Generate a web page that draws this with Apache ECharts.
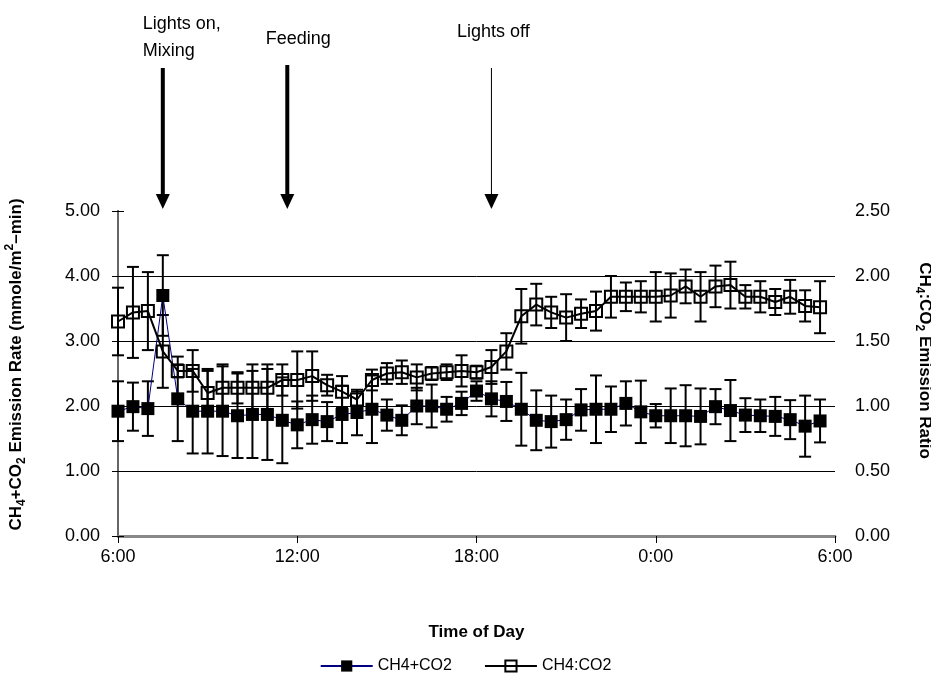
<!DOCTYPE html>
<html>
<head>
<meta charset="utf-8">
<script src="https://cdn.jsdelivr.net/npm/echarts@6/dist/echarts.min.js"></script>
<style>
  html, body { margin: 0; padding: 0; background: #fff; }
  #chart { width: 931px; height: 675px; }
</style>
</head>
<body>
<div id="chart"></div>
<script>
// half-hourly sampling times
const times = ['6:00','6:30','7:00','7:30','8:00','8:30','9:00','9:30','10:00','10:30','11:00','11:30',
  '12:00','12:30','13:00','13:30','14:00','14:30','15:00','15:30','16:00','16:30','17:00','17:30',
  '18:00','18:30','19:00','19:30','20:00','20:30','21:00','21:30','22:00','22:30','23:00','23:30',
  '0:00','0:30','1:00','1:30','2:00','2:30','3:00','3:30','4:00','4:30','5:00','5:30']

// CH4+CO2 emission rate (mmole/m2-min) and its error
const rate = [1.92, 1.99, 1.96, 3.70, 2.11, 1.92, 1.92, 1.92, 1.85, 1.87, 1.87, 1.78,
  1.71, 1.79, 1.76, 1.87, 1.90, 1.95, 1.86, 1.78, 2.00, 2.00, 1.95, 2.04,
  2.23, 2.11, 2.07, 1.95, 1.78, 1.76, 1.79, 1.94, 1.95, 1.95, 2.04, 1.91,
  1.85, 1.85, 1.85, 1.84, 1.99, 1.93, 1.86, 1.85, 1.84, 1.79, 1.69, 1.77]
const rateErr = [0.46, 0.37, 0.42, 0.62, 0.65, 0.65, 0.65, 0.69, 0.65, 0.67, 0.70, 0.66,
  0.36, 0.37, 0.30, 0.44, 0.35, 0.52, 0.24, 0.23, 0.28, 0.33, 0.19, 0.18,
  0.15, 0.27, 0.30, 0.56, 0.46, 0.40, 0.31, 0.32, 0.52, 0.35, 0.34, 0.48,
  0.18, 0.42, 0.47, 0.43, 0.27, 0.47, 0.26, 0.25, 0.30, 0.30, 0.47, 0.33]

// CH4:CO2 emission ratio and its error
const ratio = [1.65, 1.72, 1.73, 1.42, 1.27, 1.27, 1.10, 1.14, 1.14, 1.14, 1.14, 1.20,
  1.20, 1.23, 1.16, 1.11, 1.05, 1.20, 1.25, 1.26, 1.22, 1.25, 1.26, 1.27,
  1.26, 1.30, 1.42, 1.69, 1.78, 1.72, 1.68, 1.71, 1.73, 1.84, 1.84, 1.84,
  1.84, 1.85, 1.92, 1.84, 1.92, 1.93, 1.84, 1.84, 1.80, 1.84, 1.77, 1.76]
const ratioErr = [0.26, 0.35, 0.30, 0.28, 0.05, 0.16, 0.17, 0.18, 0.12, 0.18, 0.18, 0.12,
  0.22, 0.19, 0.08, 0.12, 0.06, 0.08, 0.08, 0.09, 0.10, 0.05, 0.06, 0.12,
  0.05, 0.13, 0.14, 0.21, 0.16, 0.12, 0.18, 0.11, 0.15, 0.16, 0.11, 0.12,
  0.19, 0.17, 0.13, 0.19, 0.16, 0.18, 0.09, 0.12, 0.10, 0.13, 0.12, 0.20]

const xTickLabels = ['6:00', '12:00', '18:00', '0:00', '6:00']

const eventTimes = ['7:30', '11:40', '18:30']
const eventLabels = ['Lights on,\nMixing', 'Feeding', 'Lights off']

const FONT = 'Liberation Sans, Arial, sans-serif'

// hours elapsed since 6:00
function hoursFrom6(t) {
  let [h, m] = t.split(':').map(Number)
  return ((h - 6 + 24) % 24) + m / 60
}

function errorBars(mean, err, axis) {
  return {
    type: 'custom',
    yAxisIndex: axis,
    z: 1,
    silent: true,
    data: times.map((t, i) => [hoursFrom6(t), mean[i] - err[i], mean[i] + err[i]]),
    encode: { x: 0, y: [1, 2] },
    renderItem: (params, api) => {
      let lo = api.coord([api.value(0), api.value(1)])
      let hi = api.coord([api.value(0), api.value(2)])
      let w = 6
      let style = { stroke: '#000', lineWidth: 2 }
      return {
        type: 'group',
        children: [
          { type: 'line', shape: { x1: lo[0], y1: lo[1], x2: hi[0], y2: hi[1] }, style: style },
          { type: 'line', shape: { x1: lo[0] - w, y1: lo[1], x2: lo[0] + w, y2: lo[1] }, style: style },
          { type: 'line', shape: { x1: hi[0] - w, y1: hi[1], x2: hi[0] + w, y2: hi[1] }, style: style }
        ]
      }
    }
  }
}

// arrow widths and label placement for the three events
const arrowLook = [
  { width: 4, dx: -20, dy: -200, align: 'left' },
  { width: 4, dx: 11, dy: -185, align: 'center' },
  { width: 1, dx: 2, dy: -192, align: 'center' }
]

const events = {
  type: 'custom',
  yAxisIndex: 0,
  clip: false,
  silent: true,
  z: 5,
  data: eventTimes.map((t, i) => [hoursFrom6(t), 5, i]),
  encode: { x: 0, y: 1 },
  renderItem: (params, api) => {
    let i = api.value(2)
    let look = arrowLook[i]
    let tip = api.coord([api.value(0), api.value(1)])
    let x = tip[0]
    let yTip = tip[1] - 2
    let yTop = i === 1 ? tip[1] - 146 : tip[1] - 143
    return {
      type: 'group',
      children: [
        { type: 'line', shape: { x1: x, y1: yTop, x2: x, y2: yTip - 12 }, style: { stroke: '#000', lineWidth: look.width } },
        { type: 'polygon', shape: { points: [[x - 7, yTip - 15], [x + 7, yTip - 15], [x, yTip]] }, style: { fill: '#000' } },
        {
          type: 'text',
          x: x + look.dx,
          y: tip[1] + look.dy,
          style: {
            text: eventLabels[i], fill: '#000', fontSize: 18, fontFamily: FONT,
            align: look.align, verticalAlign: 'top', lineHeight: 27
          }
        }
      ]
    }
  }
}

const nameRich = {
  b: { fontSize: 17, fontWeight: 'bold', fontFamily: FONT, color: '#000', lineHeight: 24 },
  s: { fontSize: 12, fontWeight: 'bold', fontFamily: FONT, color: '#000', lineHeight: 12, verticalAlign: 'bottom' },
  p: { fontSize: 12, fontWeight: 'bold', fontFamily: FONT, color: '#000', lineHeight: 12, verticalAlign: 'top' }
}

const myChart = echarts.init(document.getElementById('chart'))

myChart.setOption({
  animation: false,
  backgroundColor: '#fff',
  textStyle: { fontFamily: FONT },
  grid: { left: 118, right: 96, top: 211, bottom: 139, outerBoundsMode: 'none', containLabel: false },
  legend: {
    top: 653,
    left: 'center',
    itemWidth: 52,
    itemHeight: 14,
    itemGap: 32,
    data: ['CH4+CO2', 'CH4:CO2'],
    textStyle: { fontSize: 16, color: '#000', fontFamily: FONT }
  },
  xAxis: [
    {
      type: 'value',
      min: 0,
      max: 24,
      interval: 6,
      name: 'Time of Day',
      nameLocation: 'middle',
      nameGap: 88,
      nameTextStyle: { fontSize: 17, fontWeight: 'bold', color: '#000', fontFamily: FONT },
      axisLine: { lineStyle: { color: '#000', width: 1.5 } },
      axisTick: { length: 7, lineStyle: { color: '#000', width: 1 } },
      axisLabel: { formatter: v => xTickLabels[v / 6], fontSize: 18, color: '#000', margin: 12 },
      splitLine: { show: false }
    },
    {
      type: 'value',
      min: 0,
      max: 24,
      position: 'top',
      axisLine: { lineStyle: { color: '#888', width: 3 } },
      axisTick: { show: false },
      axisLabel: { show: false },
      splitLine: { show: false }
    }
  ],
  yAxis: [
    {
      type: 'value',
      min: 0,
      max: 5,
      interval: 1,
      position: 'left',
      name: '{b|CH}{s|4}{b|+CO}{s|2}{b| Emission Rate (mmole/m}{p|2}{b|\u2013min)}',
      nameLocation: 'middle',
      nameGap: 90,
      nameTextStyle: { rich: nameRich, padding: [0, 0, 0, 18] },
      axisLine: { show: true, lineStyle: { color: '#666', width: 2 } },
      axisTick: { show: true, length: 6, lineStyle: { color: '#000' } },
      axisLabel: { formatter: v => v.toFixed(2), fontSize: 18, color: '#000', margin: 18 },
      splitLine: { show: true, showMinLine: false, showMaxLine: false, lineStyle: { color: '#000', width: 1 } }
    },
    {
      type: 'value',
      min: 0,
      max: 2.5,
      interval: 0.5,
      position: 'right',
      name: '{b|CH}{s|4}{b|:CO}{s|2}{b| Emission Ratio}',
      nameLocation: 'middle',
      nameRotate: -90,
      nameGap: 78,
      nameTextStyle: { rich: nameRich, padding: [0, 26, 0, 0] },
      axisLine: { show: true, lineStyle: { color: '#666', width: 2 } },
      axisTick: { show: true, length: 6, lineStyle: { color: '#000' } },
      axisLabel: { formatter: v => v.toFixed(2), fontSize: 18, color: '#000', margin: 20 },
      splitLine: { show: false }
    }
  ],
  series: [
    errorBars(rate, rateErr, 0),
    errorBars(ratio, ratioErr, 1),
    {
      name: 'CH4+CO2',
      type: 'line',
      yAxisIndex: 0,
      z: 3,
      symbol: 'rect',
      symbolSize: 13,
      itemStyle: { color: '#000' },
      lineStyle: { color: '#000080', width: 1 },
      data: times.map((t, i) => [hoursFrom6(t), rate[i]])
    },
    {
      name: 'CH4:CO2',
      type: 'line',
      yAxisIndex: 1,
      z: 3,
      symbol: 'rect',
      symbolSize: 12,
      itemStyle: { color: 'rgba(255,255,255,0)', borderColor: '#000', borderWidth: 2 },
      lineStyle: { color: '#000', width: 2 },
      data: times.map((t, i) => [hoursFrom6(t), ratio[i]])
    },
    events
  ]
})
</script>
</body>
</html>
